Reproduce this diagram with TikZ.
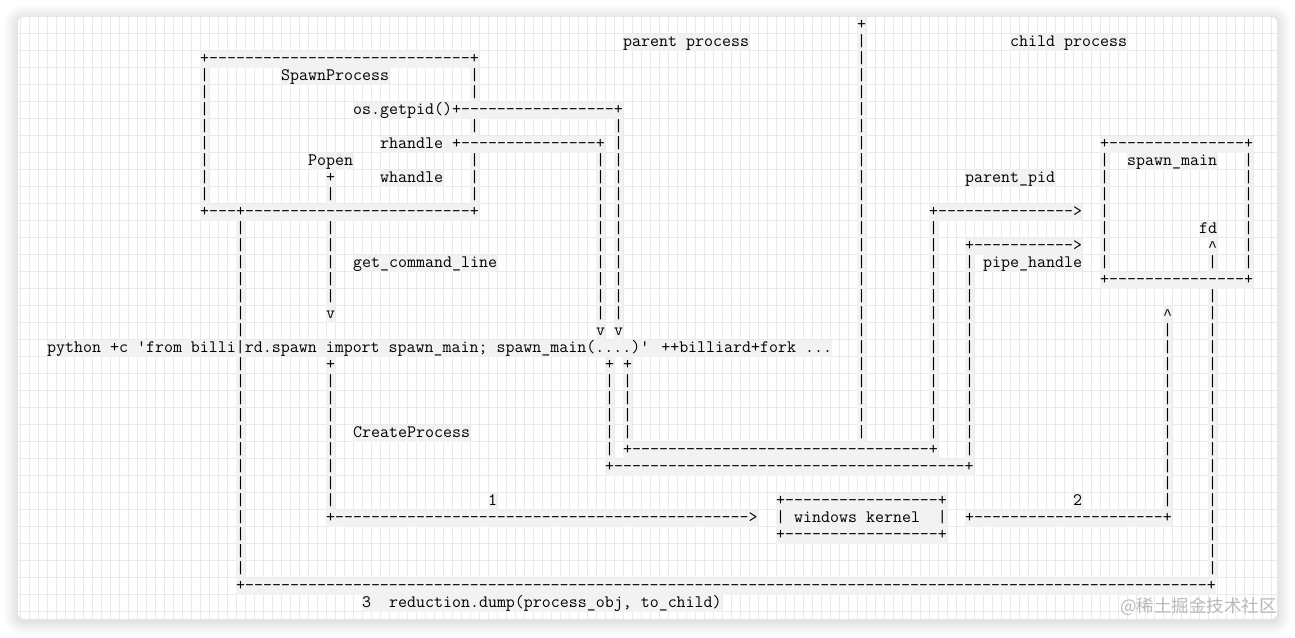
\documentclass[tikz,border=0pt]{standalone}
\usepackage{fontspec}
\newfontfamily\cjkfont{Noto Sans CJK SC}
\newfontfamily\caretfont{Liberation Mono}
\ExplSyntaxOn
\cs_new:Npn \myrep #1#2 { \prg_replicate:nn {#1} {#2} }
\ExplSyntaxOff
\definecolor{band}{HTML}{F2F2F2}
\definecolor{gridc}{HTML}{EAEAEA}
\tikzset{
  txt/.style={anchor=base west, inner sep=0pt, fill=band, text height=12.5pt, text depth=4.5pt,
    font=\ttfamily\fontsize{17.45}{17}\selectfont},
}
\newcommand\asc[3]{\node[txt] (t-#1-#2) at ({47+9*#1},{29+17*#2}) {#3};}
\newcommand\vcol[3]{\foreach \rr in {#2,...,#3}{\node[txt] (v-#1-\rr) at ({47+9*#1},{29+17*\rr}) {|};}}
\newcommand\caret{\makebox[9pt]{\raisebox{-1.5pt}{\caretfont\fontsize{15}{15}\selectfont\string^}}}
\begin{document}
\begin{tikzpicture}[x=1pt,y=-1pt]
\useasboundingbox (0,0) rectangle (1295,637);
\fill[white] (0,0) rectangle (1295,637);
% shadow
\foreach \i in {1,...,14}{
  \fill[black, opacity=0.009, rounded corners={6+\i}] ({18-\i},{17-\i+2}) rectangle ({1277+\i},{619+\i+2});
}
\fill[white, rounded corners=6] (18,17) rectangle (1277,619);
\begin{scope}
\clip[rounded corners=6] (18,17) rectangle (1277,619);
\draw[gridc, line width=0.8pt] \foreach \k in {-3,...,136}{({47+9*\k},17) -- ({47+9*\k},619)};
\draw[gridc, line width=0.8pt] \foreach \k in {0,...,35}{(18,{16.5+17*\k}) -- (1277,{16.5+17*\k})};
\end{scope}

% top separator and titles
\asc{90}{0}{+}
\vcol{90}{1}{24}
\asc{64}{1}{parent process}
\asc{107}{1}{child process}

% SpawnProcess box
\asc{17}{2}{+\myrep{29}{-}+}
\vcol{17}{3}{10}
\asc{26}{3}{SpawnProcess}
\asc{47}{3}{|}
\asc{47}{4}{|}
\asc{47}{6}{|}
\asc{47}{8}{|}
\asc{47}{9}{|}
\asc{47}{10}{|}
\asc{34}{5}{os.getpid()+\myrep{17}{-}+}
\vcol{63}{6}{17}
\asc{37}{7}{rhandle~+\myrep{15}{-}+}
\vcol{61}{8}{17}
\asc{29}{8}{Popen}
\asc{31}{9}{+}
\asc{37}{9}{whandle}
\asc{31}{10}{|}
\asc{17}{11}{+\myrep{3}{-}+\myrep{25}{-}+}

% get_command_line
\vcol{31}{12}{16}
\asc{31}{17}{v}
\asc{34}{14}{get\_command\_line}
\asc{61}{18}{v}
\asc{63}{18}{v}
\vcol{21}{12}{18}
\vcol{21}{20}{32}

% python line
\asc{0}{19}{python +c 'from billi|rd.spawn import spawn\_main; spawn\_main(....)' ++billiard+fork ...}

% CreateProcess
\asc{31}{20}{+}
\vcol{31}{21}{28}
\asc{62}{20}{+}
\asc{64}{20}{+}
\vcol{62}{21}{25}
\vcol{64}{21}{24}
\asc{34}{24}{CreateProcess}
\asc{64}{25}{+\myrep{33}{-}+}
\asc{62}{26}{+\myrep{39}{-}+}

% child side
\asc{98}{11}{+\myrep{15}{-}>}
\vcol{98}{12}{24}
\asc{102}{9}{parent\_pid}
\asc{102}{13}{+\myrep{11}{-}>}
\vcol{102}{14}{25}
\asc{104}{14}{pipe\_handle}
\asc{117}{7}{+\myrep{15}{-}+}
\vcol{117}{8}{14}
\vcol{133}{8}{14}
\asc{120}{8}{spawn\_main}
\asc{128}{12}{fd}
\asc{129}{13}{\caret}
\asc{129}{14}{|}
\asc{117}{15}{+\myrep{15}{-}+}
\vcol{129}{16}{32}
\asc{124}{17}{\caret}
\vcol{124}{18}{28}

% windows kernel
\asc{49}{28}{1}
\asc{81}{28}{+\myrep{17}{-}+}
\asc{114}{28}{2}
\asc{31}{29}{+\myrep{46}{-}>}
\asc{81}{29}{|~windows~kernel~~|}
\asc{102}{29}{+\myrep{21}{-}+}
\asc{81}{30}{+\myrep{17}{-}+}

% bottom
\asc{21}{33}{+\myrep{107}{-}+}
\asc{35}{34}{3~~reduction.dump(process\_obj,~to\_child)}

% watermark
\node[anchor=east, inner sep=0pt, text=black!27, font=\cjkfont\fontsize{17.5}{17.5}\selectfont] (wm) at (1277,607) {@稀土掘金技术社区};
\end{tikzpicture}
\end{document}
